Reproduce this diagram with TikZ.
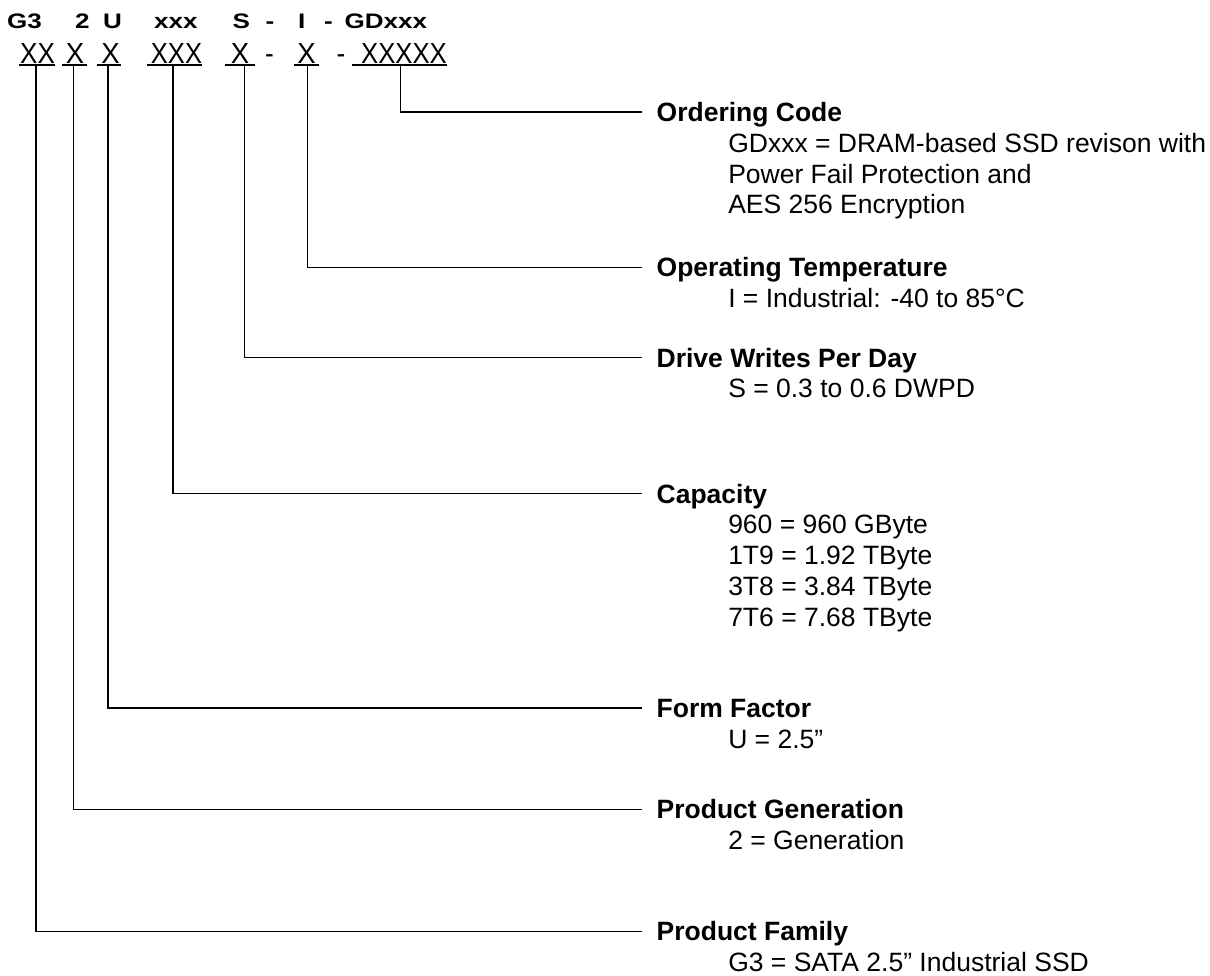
\documentclass[tikz,border=0pt]{standalone}
\usepackage{fontspec}
\setmainfont{Liberation Sans}
\usepackage{graphicx}
\newcommand\hsq[2]{\scalebox{#1}[1]{#2}}
\begin{document}
\begin{tikzpicture}[x=1pt,y=-1pt,
  line width=1.3pt,
  codeA/.style={anchor=base west, inner sep=0pt, font=\bfseries\fontsize{21}{24}\selectfont},
  codeB/.style={anchor=base, inner sep=0pt, font=\fontsize{29}{32}\selectfont},
  ttl/.style={anchor=west, inner sep=0pt, text height=19pt, text depth=0pt, font=\bfseries\fontsize{26.5}{30.7}\selectfont},
  sub/.style={anchor=base west, inner sep=0pt, font=\fontsize{26.5}{30.7}\selectfont},
  uline/.style={line width=1.3pt},
  lead/.style={line width=1.3pt},
]
\useasboundingbox (0,0) rectangle (1210,976);

% first row (bold)
\node[codeA] (aG3) at (6.5,28.3) {\hsq{1.24}{G3}};
\node[codeA] (a2) at (74.5,28.3) {\hsq{1.24}{2}};
\node[codeA] (aU) at (102.5,28.3) {\hsq{1.24}{U}};
\node[codeA] (axxx) at (153.5,28.3) {\hsq{1.24}{xxx}};
\node[codeA] (aS) at (232,28.3) {\hsq{1.24}{S}};
\node[codeA] (ad1) at (265,28.3) {\hsq{1.24}{-}};
\node[codeA] (aI) at (297.5,28.3) {\hsq{1.24}{I}};
\node[codeA] (ad2) at (323.5,28.3) {\hsq{1.24}{-}};
\node[codeA] (aGD) at (344,28.3) {\hsq{1.24}{GDxxx}};

% second row (regular, underlined)
\node[codeB] (bXX) at (37.5,63.3) {\hsq{0.9}{XX}};
\node[codeB] (bX1) at (75,63.3) {\hsq{0.95}{X}};
\node[codeB] (bX2) at (110.5,63.3) {\hsq{0.95}{X}};
\node[codeB] (bXXX) at (176.5,63.3) {\hsq{0.88}{XXX}};
\node[codeB] (bX3) at (240,63.3) {\hsq{0.95}{X}};
\node[codeB] (bd1) at (269.5,63.3) {\hsq{0.9}{-}};
\node[codeB] (bX4) at (306.5,63.3) {\hsq{0.95}{X}};
\node[codeB] (bd2) at (341,63.3) {\hsq{0.9}{-}};
\node[codeB] (bX5) at (404,63.3) {\hsq{0.886}{XXXXX}};

\draw[uline] (19,65) -- (55,65);
\draw[uline] (62.3,65) -- (87.3,65);
\draw[uline] (96.7,65) -- (120.7,65);
\draw[uline] (146.7,65) -- (201.7,65);
\draw[uline] (225,65) -- (255,65);
\draw[uline] (294.3,65) -- (319,65);
\draw[uline] (351.7,65) -- (446.7,65);

% lead start points on the underlines
\coordinate (u1) at (36,65);
\coordinate (u2) at (73.5,65);
\coordinate (u3) at (108,65);
\coordinate (u4) at (173,65);
\coordinate (u5) at (244.5,65);
\coordinate (u6) at (307.5,65);
\coordinate (u7) at (400.5,65);

% titles
\node[ttl] (tOrd) at (656,112) {Ordering Code};
\node[ttl] (tTmp) at (656,267.3) {Operating Temperature};
\node[ttl] (tDw)  at (656,357.5) {Drive Writes Per Day};
\node[ttl] (tCap) at (656,493.5) {Capacity};
\node[ttl] (tFF)  at (656,708) {Form Factor};
\node[ttl] (tGen) at (656,809.2) {Product Generation};
\node[ttl] (tFam) at (656,931.3) {Product Family};

% descriptions
\node[sub] (o1) at ([shift={(71.6pt,-30.8pt)}]tOrd.base west) {GDxxx = DRAM-based SSD revison with};
\node[sub] (o2) at ([yshift=-30.8pt]o1.base west) {Power Fail Protection and};
\node[sub] (o3) at ([yshift=-30.8pt]o2.base west) {AES 256 Encryption};
\node[sub] (p1) at ([shift={(71.6pt,-30.8pt)}]tTmp.base west) {I = Industrial: -40 to 85°C};
\node[sub] (d1) at ([shift={(71.6pt,-30.8pt)}]tDw.base west) {S = 0.3 to 0.6 DWPD};
\node[sub] (c1) at ([shift={(71.6pt,-30.8pt)}]tCap.base west) {960 = 960 GByte};
\node[sub] (c2) at ([yshift=-30.8pt]c1.base west) {1T9 = 1.92 TByte};
\node[sub] (c3) at ([yshift=-30.8pt]c2.base west) {3T8 = 3.84 TByte};
\node[sub] (c4) at ([yshift=-30.8pt]c3.base west) {7T6 = 7.68 TByte};
\node[sub] (f1) at ([shift={(71.6pt,-30.8pt)}]tFF.base west) {U = 2.5”};
\node[sub] (g1) at ([shift={(71.6pt,-30.8pt)}]tGen.base west) {2 = Generation};
\node[sub] (m1) at ([shift={(71.6pt,-30.8pt)}]tFam.base west) {G3 = SATA 2.5” Industrial SSD};

% leads
\draw[lead] (u7) |- ([xshift=-14pt]tOrd.west);
\draw[lead] (u6) |- ([xshift=-14pt]tTmp.west);
\draw[lead] (u5) |- ([xshift=-14pt]tDw.west);
\draw[lead] (u4) |- ([xshift=-14pt]tCap.west);
\draw[lead] (u3) |- ([xshift=-14pt]tFF.west);
\draw[lead] (u2) |- ([xshift=-14pt]tGen.west);
\draw[lead] (u1) |- ([xshift=-14pt]tFam.west);
\end{tikzpicture}
\end{document}
